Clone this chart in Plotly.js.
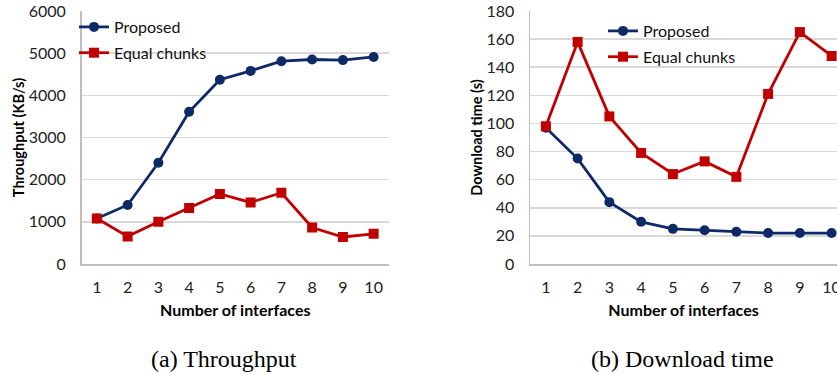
<!DOCTYPE html>
<html>
<head>
<meta charset="utf-8">
<script src="https://cdn.plot.ly/plotly-3.0.1.min.js"></script>
<style>html,body{margin:0;padding:0;background:#fff;}#chart{width:837px;height:375px;}</style>
</head>
<body>
<div id="chart"></div>
<script>
const interfaces = [1, 2, 3, 4, 5, 6, 7, 8, 9, 10];
const throughputProposed = [1080, 1400, 2400, 3610, 4370, 4580, 4810, 4850, 4835, 4910];
const throughputEqual = [1080, 655, 1000, 1330, 1660, 1460, 1690, 865, 640, 715];
const timeProposed = [97, 75, 44, 30, 25, 24, 23, 22, 22, 22];
const timeEqual = [98, 158, 105, 79, 64, 73, 62, 121, 165, 148];
const seriesNames = ['Proposed', 'Equal chunks'];
const captions = ['(a) Throughput', '(b) Download time'];

const BLUE = '#0d2a66';
const RED = '#c00000';
const W = 837, H = 375;
const font = 'Lato, "Open Sans", sans-serif';

function tr(y, name, color, sym, xa, ya, leg, size) {
  return {
    x: interfaces, y: y, name: name, type: 'scatter', mode: 'lines+markers',
    line: {color: color, width: 2.8},
    marker: {color: color, symbol: sym, size: size},
    xaxis: xa, yaxis: ya, legend: leg, legendgroup: name + leg
  };
}

const data = [
  tr(throughputProposed, seriesNames[0], BLUE, 'circle', 'x', 'y', 'legend', 10),
  tr(throughputEqual, seriesNames[1], RED, 'square', 'x', 'y', 'legend', 10),
  tr(timeProposed, seriesNames[0], BLUE, 'circle', 'x2', 'y2', 'legend2', 10),
  tr(timeEqual, seriesNames[1], RED, 'square', 'x2', 'y2', 'legend2', 10)
];

const yDom = [1 - 264 / H, 1 - 11 / H];
const xTitleFont = {family: font, size: 16, color: '#000'};
const yTitleFont = {family: font, size: 14.5, color: '#000'};
const xCommon = {
  tickmode: 'array', tickvals: interfaces, ticktext: interfaces.map(String),
  showgrid: false, zeroline: false, showline: true, linecolor: '#bfbfbf', linewidth: 1.5,
  ticks: 'outside', ticklen: 8, tickcolor: 'rgba(0,0,0,0)',
  tickfont: {family: font, size: 16, color: '#222'}, ticklabeloverflow: 'allow',
  fixedrange: true
};
const yCommon = {
  showgrid: true, gridcolor: '#d9d9d9', gridwidth: 1.5, zeroline: false,
  showline: true, linecolor: '#bfbfbf', linewidth: 1.5,
  ticks: 'outside', ticklen: 11, tickcolor: 'rgba(0,0,0,0)',
  tickfont: {family: font, size: 16, color: '#222'},
  domain: yDom, fixedrange: true
};

const layout = {
  width: W, height: H,
  margin: {l: 0, r: 0, t: 0, b: 0},
  paper_bgcolor: '#fff', plot_bgcolor: '#fff',
  showlegend: true,
  xaxis: Object.assign({}, xCommon, {domain: [81.5 / W, 389 / W], range: [0.5, 10.5], anchor: 'y',
    title: {text: '<b>Number of interfaces</b>', font: xTitleFont, standoff: 10}}),
  yaxis: Object.assign({}, yCommon, {range: [0, 6000], dtick: 1000, anchor: 'x',
    title: {text: '<b>Throughput (KB/s)</b>', font: yTitleFont, standoff: 0}}),
  xaxis2: Object.assign({}, xCommon, {domain: [530 / W, 1], range: [0.5, 0.5 + (837 - 530) / 31.75], anchor: 'y2',
    title: {text: '<b>Number of interfaces</b>', font: xTitleFont, standoff: 10}}),
  yaxis2: Object.assign({}, yCommon, {range: [0, 180], dtick: 20, anchor: 'x2',
    title: {text: '<b>Download time (s)</b>', font: yTitleFont, standoff: 0}}),
  legend: {x: 74 / W, y: 1 - 10 / H, xanchor: 'left', yanchor: 'top', bgcolor: 'rgba(0,0,0,0)',
    font: {family: font, size: 16, color: '#111'}, tracegroupgap: 2, traceorder: 'grouped', itemwidth: 30},
  legend2: {x: 603 / W, y: 1 - 14 / H, xanchor: 'left', yanchor: 'top', bgcolor: 'rgba(0,0,0,0)',
    font: {family: font, size: 16, color: '#111'}, tracegroupgap: 2, traceorder: 'grouped', itemwidth: 30},
  annotations: [
    {text: captions[0], xref: 'paper', yref: 'paper', x: 224 / W, y: 1 - 359 / H, xanchor: 'center', yanchor: 'middle',
      showarrow: false, borderpad: 0, font: {family: '"Liberation Serif", "DejaVu Serif", serif', size: 24, color: '#000'}},
    {text: captions[1], xref: 'paper', yref: 'paper', x: 682 / W, y: 1 - 359 / H, xanchor: 'center', yanchor: 'middle',
      showarrow: false, borderpad: 0, font: {family: '"Liberation Serif", "DejaVu Serif", serif', size: 24, color: '#000'}}
  ]
};

Plotly.newPlot('chart', data, layout, {staticPlot: true, displayModeBar: false});
</script>
</body>
</html>
